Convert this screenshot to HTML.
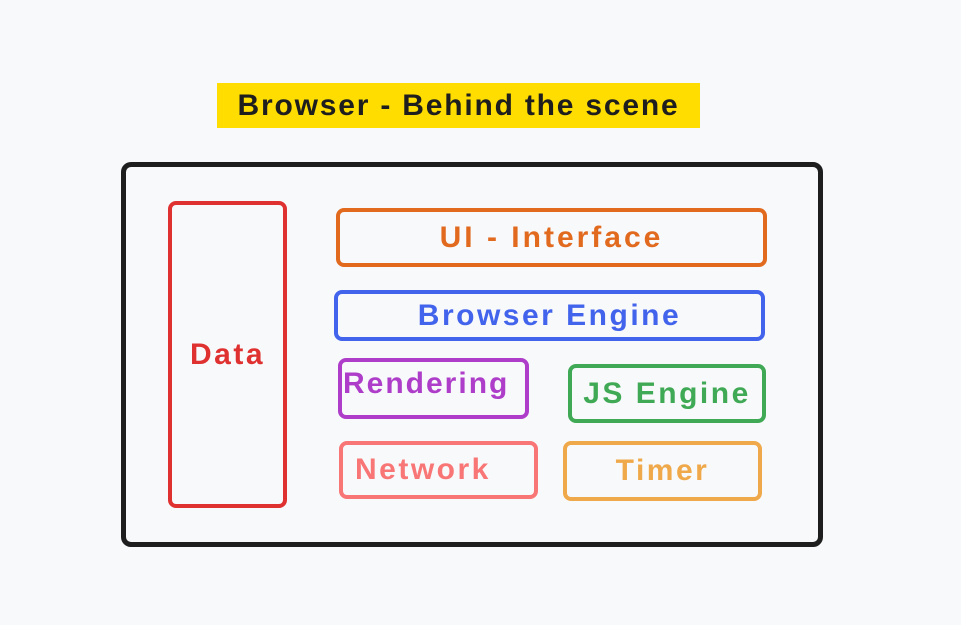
<!DOCTYPE html>
<html><head><meta charset="utf-8"><style>
html,body{margin:0;padding:0}
body{width:961px;height:625px;background:#f8f9fb;position:relative;overflow:hidden;font-family:"Liberation Sans",sans-serif;font-weight:bold}
.b{position:absolute;box-sizing:border-box;border-radius:8px;display:flex;align-items:center;justify-content:center;font-size:30px;letter-spacing:2.5px;white-space:nowrap}
.t{position:absolute;left:217px;top:83px;width:483px;height:45px;background:#ffdd00;color:#1e1e1e;font-size:30px;display:flex;align-items:center;justify-content:center;letter-spacing:1.8px;white-space:nowrap}
</style></head><body>
<div class="t">Browser - Behind the scene</div>
<div class="b" style="left:121px;top:162px;width:702px;height:385px;border:5px solid #1e1e1e;border-radius:10px"></div>
<div class="b" style="left:168px;top:201px;width:119px;height:307px;border:4px solid #e03131;color:#e03131">Data</div>
<div class="b" style="left:336px;top:208px;width:431px;height:59px;border:4px solid #e16a1f;color:#e16a1f;letter-spacing:3px">UI - Interface</div>
<div class="b" style="left:334px;top:290px;width:431px;height:51px;border:4px solid #4263eb;color:#4263eb">Browser Engine</div>
<div class="b" style="left:338px;top:358px;width:191px;height:61px;border:4px solid #ae3ec9;color:#ae3ec9;justify-content:flex-start;align-items:flex-start;padding:5px 0 0 1px;letter-spacing:2px">Rendering</div>
<div class="b" style="left:568px;top:364px;width:198px;height:59px;border:4px solid #40a955;color:#40a955">JS Engine</div>
<div class="b" style="left:339px;top:441px;width:199px;height:58px;border:4px solid #f87676;color:#f87676;justify-content:flex-start;padding-left:12px">Network</div>
<div class="b" style="left:563px;top:441px;width:199px;height:60px;border:4px solid #f0a94a;color:#f0a94a">Timer</div>
</body></html>
